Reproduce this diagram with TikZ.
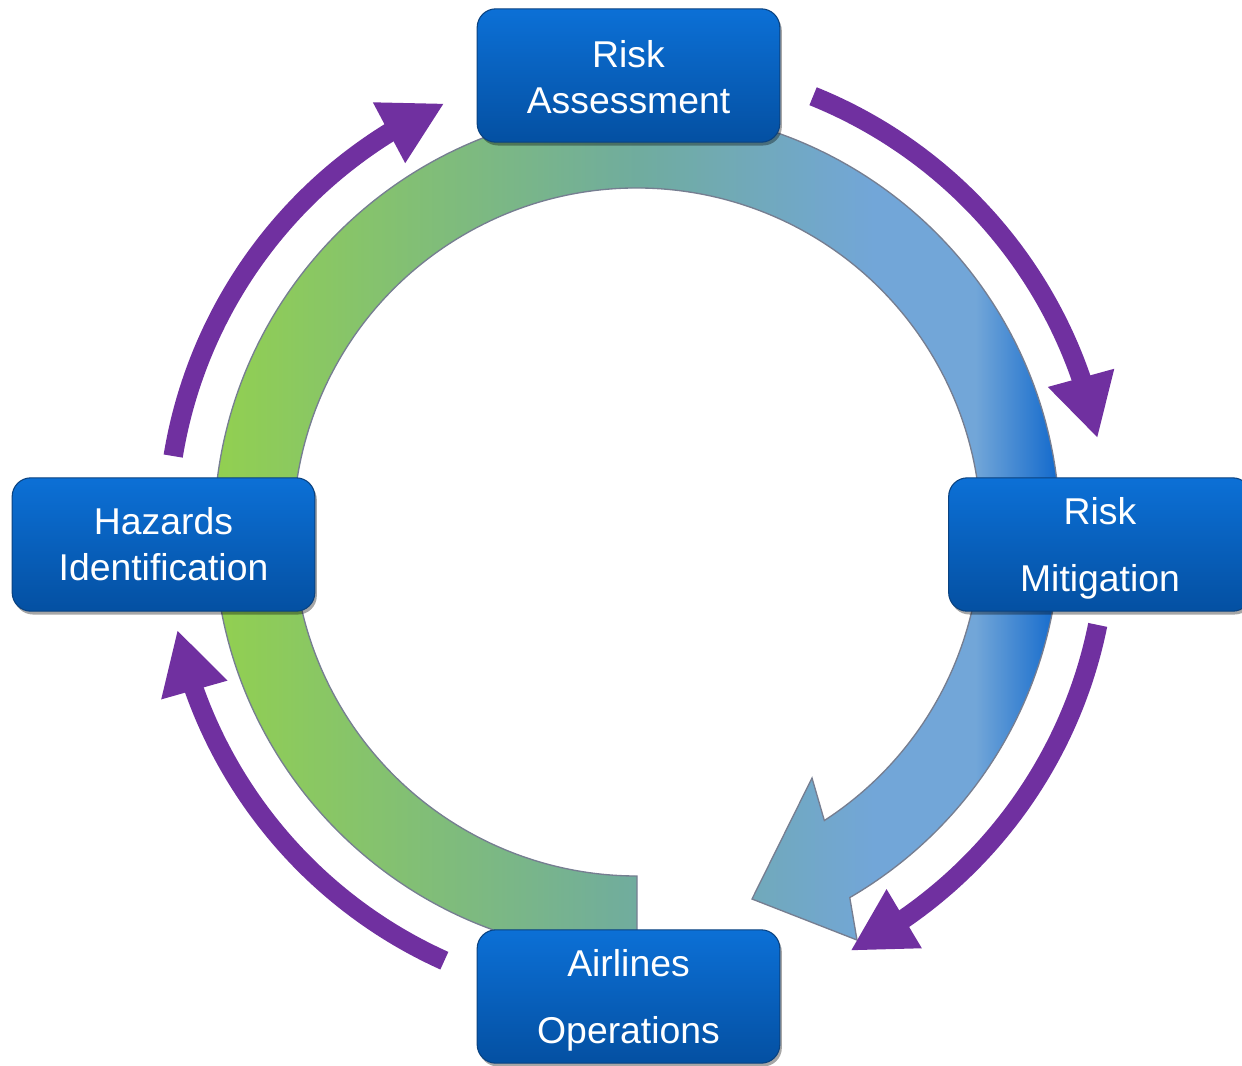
\documentclass[tikz,border=0pt]{standalone}
\usepackage{fontspec}
\setmainfont{Liberation Sans}
\usetikzlibrary{arrows.meta, shadows, positioning}

\definecolor{cyclepurple}{RGB}{112,48,160}
\definecolor{stagetop}{RGB}{12,112,214}
\definecolor{stagebot}{RGB}{4,80,162}
\definecolor{stageedge}{RGB}{10,66,128}
\definecolor{ringedge}{RGB}{118,126,145}
\definecolor{ringgreen}{RGB}{146,208,80}
\definecolor{ringteal}{RGB}{112,172,158}
\definecolor{ringsky}{RGB}{114,166,216}
\definecolor{ringblue}{RGB}{16,104,204}

% left to right fade of the big ring
\pgfdeclarehorizontalshading{ringfade}{100bp}{
  color(0bp)=(ringgreen); color(25bp)=(ringgreen);
  color(50bp)=(ringteal); color(64bp)=(ringsky);
  color(70bp)=(ringsky); color(75bp)=(ringblue);
  color(100bp)=(ringblue)}

\tikzset{
  stage/.style={draw=stageedge, line width=0.8pt, rounded corners=14pt,
    top color=stagetop, bottom color=stagebot,
    minimum width=227pt, minimum height=100pt, inner sep=0pt,
    text=white, align=center, font=\fontsize{28}{34.5}\selectfont,
    drop shadow={shadow xshift=1.5pt, shadow yshift=-2.5pt, opacity=.35, fill=black}},
  stage wide/.style={stage, font=\fontsize{28}{50}\selectfont},
  loop arrow/.style={draw=cyclepurple, line width=14.5pt,
    -{Triangle[length=47pt,width=48pt]}},
}

% arc of the purple loop from #1 to #2 degrees, head drawn straight
\newcommand{\looparc}[2]{%
  \draw[loop arrow] (#1:470) arc[start angle=#1, end angle=#2-7.6, radius=470]
    -- (#2:470);}
% taller first line pushes the wide labels down a little
\newcommand{\lowstrut}{\rule{0pt}{26.5pt}}

\begin{document}
\begin{tikzpicture}[x=0.75pt,y=0.75pt,yscale=-1]
\useasboundingbox (0,0) rectangle (1242,1065);
\coordinate (hub) at (637,532);

\begin{scope}[shift={(hub)}]
% big ring arrow
\path[shading=ringfade, draw=ringedge, line width=1pt]
  (90:423) arc[start angle=90, end angle=419.8, radius=423]
  -- (220,408) -- (115,367) -- (175,246)
  -- (417:344) arc[start angle=417, end angle=90, radius=344] -- cycle;

% purple arrows around the ring
\looparc{189.3}{245.8}
\looparc{292}{348.5}
\looparc{11.4}{63}
\looparc{114.2}{168}
\end{scope}

% stages
\node[stage] (assess) at (628.5,75.5) {\rule{0pt}{23pt}Risk\\Assessment};
\node[stage wide] (mitig) at (1100,544.5) {\lowstrut Risk\\Mitigation};
\node[stage] (hazard) at (163.5,544.5) {Hazards\\Identification};
\node[stage wide] (airline) at (628.5,996.5) {\lowstrut Airlines\\Operations};

\end{tikzpicture}
\end{document}
